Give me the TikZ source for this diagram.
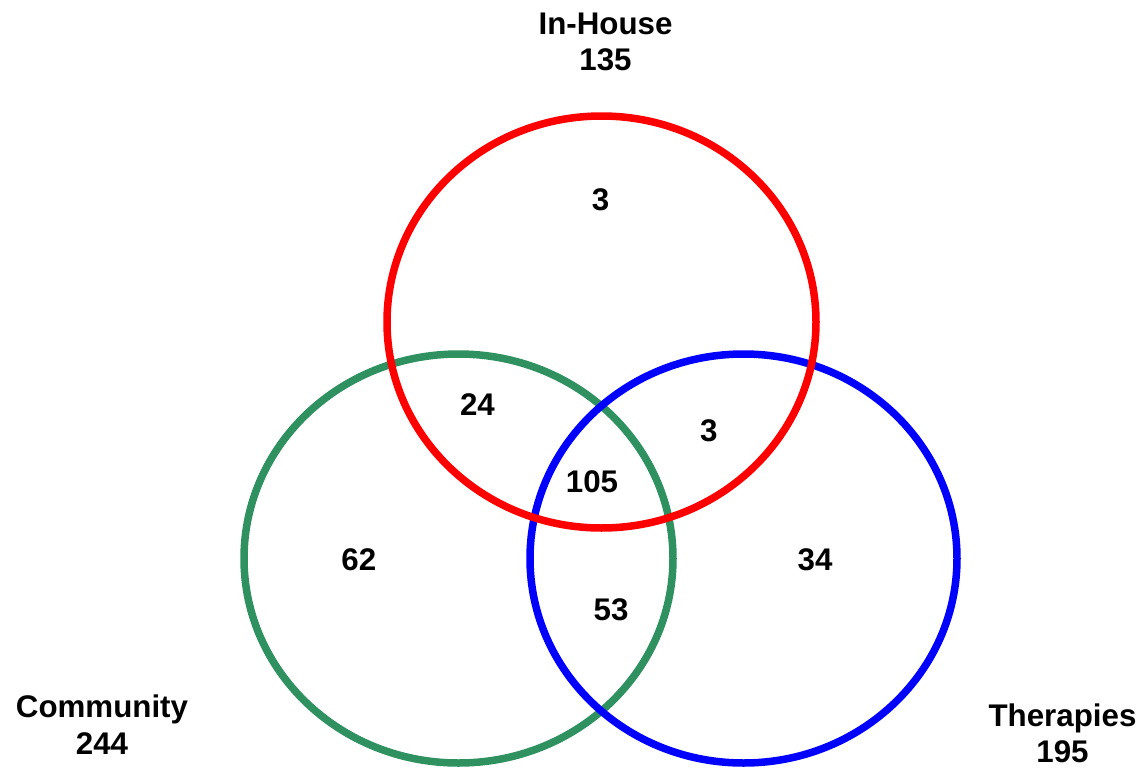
\documentclass[tikz,border=0pt]{standalone}
\usepackage{fontspec}
\setmainfont{Liberation Sans}
\definecolor{vred}{RGB}{255,0,0}
\definecolor{vgreen}{RGB}{46,145,95}
\definecolor{vblue}{RGB}{0,0,255}
\tikzset{
  setring/.style={line width=7.5pt},
  num/.style={inner sep=0pt, anchor=center, font=\fontsize{31.3}{36}\selectfont\bfseries},
  lbl/.style={inner sep=0pt, anchor=base, font=\fontsize{31.3}{36}\selectfont\bfseries}
}
\begin{document}
\begin{tikzpicture}[x=1pt,y=-1pt]
\useasboundingbox (0,0) rectangle (1144,769);
% sets
\draw[setring, vgreen] (458.5,558.5) ellipse [x radius=214.5, y radius=204.5];
\draw[setring, vblue] (743.5,558.5) ellipse [x radius=213.5, y radius=204.5];
\draw[setring, vred] (601.5,322) ellipse [x radius=214.5, y radius=206];
% set labels
\node[lbl] (inhouse) at (605.5,34.3) {In-House};
\node[lbl] (inhousen) at (605.5,70) {135};
\node[lbl] (community) at (102,717.3) {Community};
\node[lbl] (communityn) at (102,754) {244};
\node[lbl] (therapies) at (1062.5,726.7) {Therapies};
\node[lbl] (therapiesn) at (1062.5,762.7) {195};
% region counts
\node[num] (onlyin) at (600.5,199.5) {3};
\node[num] (incom) at (477.5,405) {24};
\node[num] (inther) at (708.7,430.3) {3};
\node[num] (all) at (592,482) {105};
\node[num] (onlycom) at (358.8,560) {62};
\node[num] (onlyther) at (815,560) {34};
\node[num] (comther) at (611,610) {53};
\end{tikzpicture}
\end{document}
